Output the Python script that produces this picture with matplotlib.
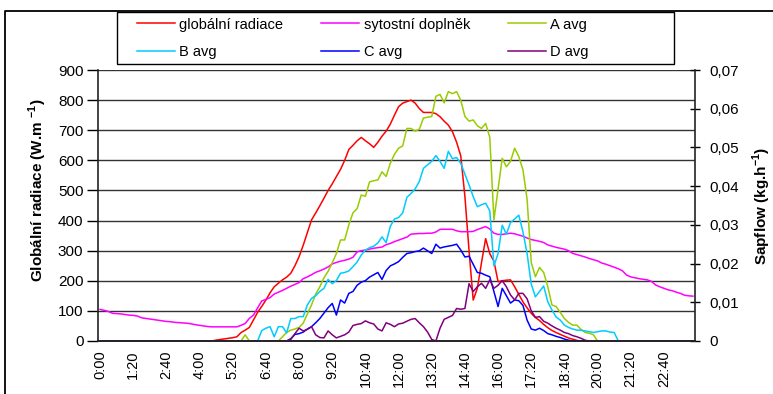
import matplotlib
matplotlib.use('Agg')
import matplotlib.pyplot as plt
from matplotlib.lines import Line2D
from matplotlib.patches import Rectangle

plt.rcParams['font.family'] = ['Liberation Sans', 'DejaVu Sans']
plt.rcParams['mathtext.fontset'] = 'custom'
plt.rcParams['mathtext.rm'] = 'Liberation Sans'
plt.rcParams['mathtext.bf'] = 'Liberation Sans:bold'

# mereni po 10 minutach, 144 hodnot za den
x_labels = ['0:00', '1:20', '2:40', '4:00', '5:20', '6:40', '8:00', '9:20', '10:40',
            '12:00', '13:20', '14:40', '16:00', '17:20', '18:40', '20:00', '21:20', '22:40']
label_step = 8

# globalni radiace (W.m-1), leva osa
radiace = [0] * 28 + [
    3,
    5, 7, 9, 11, 14, 28, 36, 45, 70, 95, 115,
    136, 160, 180, 192, 203, 212, 225, 250, 280, 318,
    360, 402, 425, 449, 474, 500, 522, 546, 570, 600,
    636, 650, 665, 676, 665, 655, 643, 660, 680, 697,
    720, 750, 778, 790, 795, 800, 790, 772, 759, 759,
    759, 755, 745, 730, 717, 695, 660, 615, 480, 300,
    136, 175, 260, 340, 290, 265, 197, 200, 202, 203,
    180, 155, 130, 110, 92, 78, 68, 55, 44, 35,
    28, 22, 16, 10, 6, 2, 0] + [0] * 27

# sytostni doplnek, leva osa
doplnek = [
    105, 102, 98, 92, 91, 90, 88, 86, 85, 83,
    77, 75, 73, 71, 69, 67, 65, 64, 62, 61,
    60, 59, 57, 54, 52, 50, 48, 47, 47, 47,
    47, 47, 47, 47, 52, 58, 75, 86, 110, 133,
    138, 144, 156, 162, 168, 175, 182, 188, 194, 207,
    213, 220, 228, 233, 239, 246, 256, 261, 265, 268,
    272, 278, 296, 300, 302, 305, 308, 310, 312, 320,
    324, 330, 335, 340, 345, 355, 356, 357, 357, 358,
    358, 362, 371, 371, 371, 371, 366, 363, 363, 363,
    364, 370, 375, 380, 372, 358, 354, 354, 356, 358,
    356, 352, 348, 342, 337, 334, 331, 327, 319, 315,
    311, 308, 305, 300, 291, 287, 283, 279, 274, 270,
    266, 259, 255, 250, 245, 240, 233, 219, 213, 210,
    207, 205, 203, 198, 186, 180, 175, 170, 167, 162,
    158, 152, 150, 149]

# sapflow (kg.h-1), prava osa
a_avg = [0.0] * 35 + [0.0016] + [0.0] * 8 + [
    0.0011, 0.0022, 0.0028, 0.0031, 0.0035, 0.0046,
    0.0070, 0.0093, 0.0121, 0.0140, 0.0163, 0.0180, 0.0202, 0.0226, 0.0261, 0.0261,
    0.0300, 0.0331, 0.0342, 0.0377, 0.0374, 0.0411, 0.0414, 0.0416, 0.0437, 0.0425,
    0.0459, 0.0482, 0.0498, 0.0504, 0.0549, 0.0549, 0.0542, 0.0547, 0.0576, 0.0578,
    0.0580, 0.0632, 0.0637, 0.0615, 0.0644, 0.0639, 0.0644, 0.0622, 0.0580, 0.0568,
    0.0571, 0.0556, 0.0549, 0.0562, 0.0526, 0.0313, 0.0393, 0.0472, 0.0450, 0.0464,
    0.0498, 0.0476, 0.0442, 0.0366, 0.0203, 0.0166, 0.0190, 0.0177, 0.0140, 0.0093,
    0.0089, 0.0074, 0.0058, 0.0048, 0.0041, 0.0041, 0.0030, 0.0022, 0.0020, 0.0016] + [0.0] * 24

b_avg = [0.0] * 39 + [
    0.0027,
    0.0033, 0.0037, 0.0011, 0.0037, 0.0037, 0.0021, 0.0058, 0.0058, 0.0063, 0.0063,
    0.0093, 0.0110, 0.0117, 0.0128, 0.0136, 0.0159, 0.0148, 0.0156, 0.0175, 0.0177,
    0.0181, 0.0192, 0.0204, 0.0222, 0.0235, 0.0241, 0.0245, 0.0253, 0.0269, 0.0254,
    0.0296, 0.0315, 0.0319, 0.0331, 0.0371, 0.0381, 0.0393, 0.0412, 0.0446, 0.0455,
    0.0464, 0.0479, 0.0464, 0.0446, 0.0490, 0.0471, 0.0474, 0.0459, 0.0431, 0.0403,
    0.0373, 0.0347, 0.0352, 0.0356, 0.0336, 0.0194, 0.0226, 0.0299, 0.0276, 0.0306,
    0.0315, 0.0325, 0.0282, 0.0226, 0.0147, 0.0114, 0.0128, 0.0142, 0.0101, 0.0080,
    0.0062, 0.0054, 0.0041, 0.0035, 0.0031, 0.0028, 0.0028, 0.0026, 0.0024, 0.0022,
    0.0024, 0.0026, 0.0026, 0.0023, 0.0022] + [0.0] * 19

c_avg = [0.0] * 46 + [
    0.0006, 0.0017, 0.0019, 0.0023,
    0.0031, 0.0037, 0.0047, 0.0058, 0.0072, 0.0086, 0.0097, 0.0067, 0.0106, 0.0098,
    0.0123, 0.0128, 0.0144, 0.0152, 0.0156, 0.0165, 0.0171, 0.0177, 0.0159, 0.0182,
    0.0194, 0.0199, 0.0205, 0.0216, 0.0226, 0.0228, 0.0231, 0.0233, 0.0240, 0.0233,
    0.0226, 0.0250, 0.0240, 0.0243, 0.0245, 0.0247, 0.0250, 0.0235, 0.0217, 0.0219,
    0.0198, 0.0177, 0.0175, 0.0170, 0.0166, 0.0128, 0.0089, 0.0136, 0.0117, 0.0098,
    0.0106, 0.0104, 0.0092, 0.0054, 0.0031, 0.0028, 0.0033, 0.0027, 0.0019, 0.0016,
    0.0012, 0.0009, 0.0005, 0.0002] + [0.0] * 30

d_avg = [0.0] * 46 + [
    0.0004, 0.0019, 0.0033, 0.0026,
    0.0030, 0.0037, 0.0016, 0.0009, 0.0008, 0.0026, 0.0016, 0.0008, 0.0012, 0.0016,
    0.0023, 0.0040, 0.0043, 0.0045, 0.0052, 0.0047, 0.0044, 0.0031, 0.0026, 0.0047,
    0.0043, 0.0037, 0.0044, 0.0046, 0.0051, 0.0056, 0.0058, 0.0047, 0.0037, 0.0023,
    0.0004, 0.0, 0.0033, 0.0056, 0.0061, 0.0066, 0.0084, 0.0082, 0.0084, 0.0148,
    0.0128, 0.0140, 0.0149, 0.0136, 0.0158, 0.0136, 0.0144, 0.0156, 0.0140, 0.0119,
    0.0106, 0.0123, 0.0123, 0.0109, 0.0078, 0.0061, 0.0063, 0.0051, 0.0046, 0.0039,
    0.0033, 0.0028, 0.0022, 0.0019, 0.0014, 0.0011, 0.0007, 0.0002] + [0.0] * 26

left_ticks = [0, 100, 200, 300, 400, 500, 600, 700, 800, 900]
right_ticks = [0, 0.01, 0.02, 0.03, 0.04, 0.05, 0.06, 0.07]
right_labels = ['0', '0,01', '0,02', '0,03', '0,04', '0,05', '0,06', '0,07']

x = list(range(len(radiace)))

W, H = 773, 394
fig = plt.figure(figsize=(W / 100, H / 100), dpi=100)
ax1 = fig.add_axes([98 / W, 1 - 341 / H, 597 / W, 271 / H])
ax2 = ax1.twinx()

# mrizka jen vodorovne
for v in left_ticks[1:]:
    ax1.axhline(v, color='#333333', lw=1.0, zorder=0)

lw = 1.1
l_rad, = ax1.plot(x, radiace, color='#FF0000', lw=lw)
l_dop, = ax1.plot(x, doplnek, color='#FF00FF', lw=lw)
l_a, = ax2.plot(x, a_avg, color='#99CC00', lw=lw)
l_b, = ax2.plot(x, b_avg, color='#00CCFF', lw=lw)
l_c, = ax2.plot(x, c_avg, color='#0000FF', lw=lw)
l_d, = ax2.plot(x, d_avg, color='#800080', lw=lw)

ax1.set_xlim(-0.5, len(x) - 0.5)
ax1.set_ylim(0, 900)
ax2.set_ylim(0, 0.07)

ax1.set_xticks(range(0, len(x_labels) * label_step, label_step))
ax1.set_xticklabels(x_labels, rotation=90, fontsize=10.5)
ax1.tick_params(axis='x', length=0, pad=7)

ax1.set_yticks(left_ticks)
ax1.tick_params(axis='y', direction='out', length=8, width=1.0, pad=2.5, labelsize=11)
ax2.set_yticks(right_ticks)
ax2.set_yticklabels(right_labels)
ax2.tick_params(axis='y', direction='inout', length=7, width=1.0, pad=7, labelsize=11)

for ax in (ax1, ax2):
    ax.spines['top'].set_visible(False)
    for s in ('left', 'right', 'bottom'):
        ax.spines[s].set_color('#222222')
        ax.spines[s].set_linewidth(1.2)
ax1.spines['right'].set_visible(False)
ax2.spines['left'].set_visible(False)

fig.text(38 / W, 1 - 190 / H, r'Globální radiace (W.m $^{\mathbf{-1}}$)', rotation=90,
         ha='center', va='center', fontsize=11, fontweight='bold')
fig.text(762 / W, 1 - 206 / H, r'Sapflow (kg.h$^{\mathbf{-1}}$)', rotation=90,
         ha='center', va='center', fontsize=11, fontweight='bold')

# legenda: po radcich globalni, doplnek, A / B, C, D
handles = [l_rad, l_b, l_dop, l_c, l_a, l_d]
labels = ['globální radiace', 'B avg', 'sytostní doplněk', 'C avg', 'A avg', 'D avg']
fig.legend(handles, labels, loc='upper left', bbox_to_anchor=(137 / W, 1 - 17.5 / H),
           ncol=3, frameon=False, fontsize=10.5, handlelength=2.6, handletextpad=0.3,
           columnspacing=2.6, labelspacing=0.95, borderpad=0, borderaxespad=0)
fig.add_artist(Rectangle((117 / W, 1 - 64 / H), 557 / W, 52 / H, transform=fig.transFigure,
                         fill=False, ec='black', lw=1.0))

# ramecek grafu (levy a horni okraj)
fig.add_artist(Line2D([5 / W, 5 / W, 1.0], [0, 1 - 11 / H, 1 - 11 / H],
                      transform=fig.transFigure, color='black', lw=1.3))

fig.savefig('out.png', dpi=100)
